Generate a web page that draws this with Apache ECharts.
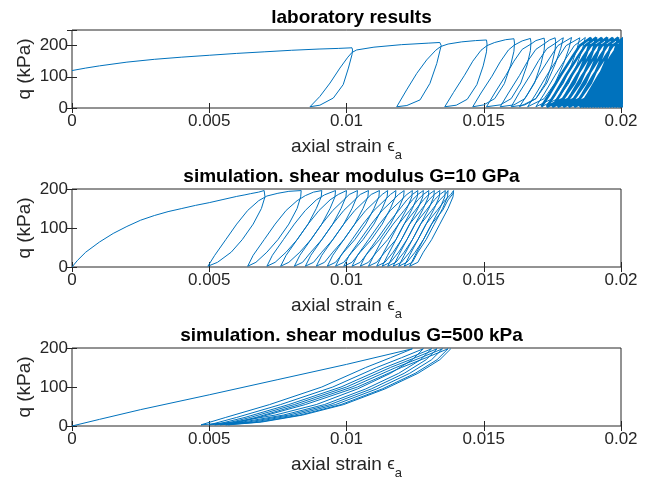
<!DOCTYPE html>
<html>
<head>
<meta charset="utf-8">
<script src="https://cdn.jsdelivr.net/npm/echarts@6/dist/echarts.min.js"></script>
<style>html,body{margin:0;padding:0;background:#fff}#c{width:648px;height:478px}</style>
</head>
<body>
<div id="c"></div>
<script>
// ---- chart data (axial strain, q in kPa) ----
const titles = ['laboratory results', 'simulation. shear modulus G=10 GPa', 'simulation. shear modulus G=500 kPa'];
const xMin = 0, xMax = 0.02, xStep = 0.005;
const yMax = [250, 200, 200];
const yStep = 100;
const yHiddenLabels = [250];

// laboratory record: first cycles
const labPts = [
[0,120],[0.0005,128],[0.001,135],[0.002,147],[0.003,156],[0.004,163],[0.005,169],[0.006,175],[0.007,180],[0.008,185],[0.009,189],[0.0097,191],[0.0102,193],
[0.01022,186],[0.0102,171],[0.01007,128],[0.00988,75],[0.00952,32],[0.00903,9],[0.00867,4],
[0.00903,37],[0.0094,80],[0.00976,128],[0.01005,163],[0.0102,178],[0.01037,186],[0.011,195],[0.012,203],[0.013,208],[0.0134,210],
[0.01345,200],[0.01341,186],[0.01329,143],[0.01304,79],[0.01268,26],[0.0122,8],[0.01183,4],
[0.01219,58],[0.01256,111],[0.01292,154],[0.01325,185],[0.01343,197],[0.0137,205],[0.0142,212],[0.0147,216],[0.0151,218],
[0.01512,205],[0.0151,180],[0.01498,135],[0.01475,75],[0.0144,28],[0.014,9],[0.01358,4],
[0.0139,50],[0.0143,105],[0.0146,150],[0.0149,185],[0.01512,200],[0.0154,210],[0.0158,219],[0.0161,222],
[0.01612,208],[0.0161,182],[0.01598,137],[0.01575,78],[0.0154,30],[0.015,10],[0.0146,4],
[0.0149,48],[0.0153,102],[0.0156,148],[0.0159,186],[0.01612,202],[0.0164,215],[0.0167,223],
[0.01672,210],[0.0167,184],[0.01658,138],[0.01635,80],[0.016,30],[0.0156,10],[0.0151,4],
[0.0154,48],[0.0158,104],[0.0161,150],[0.0164,188],[0.01672,205],[0.0169,216],[0.0172,224],
[0.01722,210],[0.0172,185],[0.01708,140],[0.01685,80],[0.0165,30],[0.0161,10],[0.0156,4],
[0.0159,48],[0.0163,104],[0.0166,150],[0.0169,188],[0.01722,207],[0.0174,218],[0.0176,225],
[0.01762,212],[0.0176,186],[0.01748,140],[0.01725,80],[0.0169,30],[0.0165,10],[0.016,4],
[0.0163,50],[0.0167,106],[0.017,152],[0.0173,190],[0.01762,208],[0.0178,220],[0.0179,225],
[0.0178,190],[0.0176,140],[0.0173,80],[0.0169,30],[0.0163,4],
[0.0166,45],[0.017,105],[0.0174,160],[0.0177,200],[0.0182,226],
[0.0181,190],[0.0179,140],[0.0176,80],[0.0172,30],[0.0166,4],
[0.0169,45],[0.0173,105],[0.0177,160],[0.018,200],[0.0185,225],
[0.0184,190],[0.0182,140],[0.0179,80],[0.0175,30],[0.0169,4],
[0.0172,45],[0.0176,105],[0.018,160],[0.0183,200],[0.0187,226],
[0.0186,190],[0.0184,140],[0.0181,80],[0.0177,30],[0.0171,4]
];
// laboratory record: continuation, densely packed late cycles
const labDensePts = [
[0.0171,4],
[0.0174,45],[0.0178,105],[0.0182,160],[0.0185,200],[0.0189,225],
[0.0188,190],[0.0186,140],[0.0183,80],[0.0179,30],[0.0173,4],
[0.0176,45],[0.018,105],[0.0184,160],[0.0187,200],[0.0191,226],
[0.019,190],[0.0188,140],[0.0185,80],[0.0181,30],[0.0175,4],
[0.0178,45],[0.0182,105],[0.0186,160],[0.0189,200],[0.0193,225],
[0.0192,190],[0.019,140],[0.0187,80],[0.0183,30],[0.0177,4],
[0.018,45],[0.0184,105],[0.0188,160],[0.0191,200],[0.0195,226],
[0.0194,190],[0.0192,140],[0.0189,80],[0.0185,30],[0.0179,4],
[0.0182,45],[0.0186,105],[0.019,160],[0.0193,200],[0.0197,225],
[0.0196,190],[0.0194,140],[0.0191,80],[0.0187,30],[0.0181,4],
[0.0184,45],[0.0188,105],[0.0192,160],[0.0195,200],[0.0199,226],
[0.0198,190],[0.0196,140],[0.0193,80],[0.0189,30],[0.0183,4],
[0.0186,45],[0.019,105],[0.0194,160],[0.0197,200],[0.0201,225],
[0.02,190],[0.0198,140],[0.0195,80],[0.0191,30],[0.0185,4],
[0.0188,45],[0.0192,105],[0.0196,160],[0.0199,200],[0.0202,226],
[0.0201,190],[0.0199,140],[0.0196,80],[0.0192,30],[0.0186,4],
[0.0189,45],[0.0193,105],[0.0197,160],[0.02,200],[0.0203,225],
[0.0202,190],[0.02,140],[0.0197,80],[0.0193,30],[0.0187,4],
[0.019,45],[0.0194,105],[0.0198,160],[0.0201,200],[0.0204,226],
[0.0203,190],[0.0201,140],[0.0198,80],[0.0194,30],[0.0188,4],
[0.0191,45],[0.0195,105],[0.0199,160],[0.0202,200],[0.0205,225],
[0.0204,190],[0.0202,140],[0.0199,80],[0.0195,30],[0.0189,4],
[0.0192,45],[0.0196,105],[0.02,160],[0.0203,200],[0.0206,226],
[0.0205,190],[0.0203,140],[0.02,80],[0.0196,30],[0.019,4],
[0.0193,45],[0.0197,105],[0.0201,160],[0.0204,200],[0.0207,225],
[0.0206,190],[0.0204,140],[0.0201,80],[0.0197,30],[0.0191,4],
[0.0194,45],[0.0198,105],[0.0202,160],[0.0205,200],[0.0208,226],
[0.0207,190],[0.0205,140],[0.0202,80],[0.0198,30],[0.0192,4],
[0.0195,45],[0.0199,105],[0.0203,160],[0.0206,200],[0.0209,225],
[0.0208,190],[0.0206,140],[0.0203,80],[0.0199,30],[0.0193,4],
[0.0196,45],[0.02,105],[0.0204,160],[0.0207,200],[0.021,226],
[0.0209,190],[0.0207,140],[0.0204,80],[0.02,30],[0.0194,4],
[0.0197,45],[0.0201,105],[0.0205,160],[0.0208,200],[0.0211,225],
[0.021,190],[0.0208,140],[0.0205,80],[0.0201,30],[0.0195,4],
[0.0198,45],[0.0202,105],[0.0206,160],[0.0209,200],[0.0212,226],
[0.0211,190],[0.0209,140],[0.0206,80],[0.0202,30],[0.0196,4],
[0.0199,45],[0.0203,105],[0.0207,160],[0.021,200],[0.0213,225],
[0.0212,190],[0.021,140],[0.0207,80],[0.0203,30],[0.0197,4],
[0.02,45],[0.0204,105],[0.0208,160],[0.0211,200],[0.0214,226],
[0.0213,190],[0.0211,140],[0.0208,80],[0.0204,30],[0.0198,4],
[0.0201,45],[0.0205,105],[0.0209,160],[0.0212,200],[0.0215,225],
[0.0214,190],[0.0212,140],[0.0209,80],[0.0205,30],[0.0199,4],
[0.0202,45],[0.0206,105],[0.021,160],[0.0213,200],[0.0216,226],
[0.0215,190],[0.0213,140],[0.021,80],[0.0206,30],[0.02,4]
];

const sim10Pts = [
[0,0],[0.0002,17],[0.0005,38],[0.001,64],[0.0015,86],[0.002,104],[0.0025,120],[0.003,132],[0.0035,142],[0.004,150],[0.0045,158],[0.005,165],[0.0055,173],[0.006,181],[0.0063,185],[0.0065,188],[0.0068,192],[0.007,196],
[0.00705,196],[0.00703,180],[0.0069,150],[0.0066,110],[0.0062,70],[0.0058,38],[0.0053,12],[0.00495,2],
[0.0052,30],[0.0056,70],[0.006,110],[0.0064,145],[0.0068,170],[0.0071,182],[0.0075,189],[0.0079,194],[0.00835,196],
[0.00833,180],[0.0082,150],[0.0079,110],[0.0075,70],[0.0071,38],[0.0067,12],[0.0064,2],
[0.0066,30],[0.007,70],[0.0074,110],[0.0078,145],[0.0082,170],[0.0085,183],[0.0088,192],[0.0091,196],
[0.00908,180],[0.0089,150],[0.0086,110],[0.0082,70],[0.0078,38],[0.0074,12],[0.0071,2],
[0.0073,30],[0.0077,70],[0.0081,110],[0.0085,145],[0.0089,172],[0.0092,185],[0.0096,196],
[0.00958,180],[0.0094,150],[0.0091,110],[0.0087,70],[0.0083,38],[0.0079,12],[0.0076,2],
[0.0078,30],[0.0082,70],[0.0086,110],[0.009,145],[0.0094,172],[0.0097,186],[0.01,196],
[0.00998,180],[0.0098,150],[0.0095,110],[0.0091,70],[0.0087,38],[0.0084,12],[0.0081,2],
[0.0083,30],[0.0087,70],[0.0091,110],[0.0095,145],[0.0099,172],[0.0101,186],[0.0104,196],
[0.01038,180],[0.0102,150],[0.0099,110],[0.0095,70],[0.0091,38],[0.0088,12],[0.0085,2],
[0.0087,30],[0.0091,70],[0.0095,110],[0.0099,145],[0.0103,172],[0.0105,186],[0.0108,196],
[0.01078,180],[0.0106,150],[0.0103,110],[0.0099,70],[0.0095,38],[0.0092,12],[0.0089,2],
[0.0091,30],[0.0095,70],[0.0099,110],[0.0103,145],[0.0107,172],[0.0109,186],[0.0112,196],
[0.01118,180],[0.011,150],[0.0107,110],[0.0103,70],[0.0099,38],[0.0096,12],[0.0093,2],
[0.0095,30],[0.0099,70],[0.0103,110],[0.0107,145],[0.0111,172],[0.0113,186],[0.0115,196],
[0.01148,180],[0.0113,150],[0.011,110],[0.0106,70],[0.0102,38],[0.0099,12],[0.0096,2],
[0.0098,30],[0.0102,70],[0.0106,110],[0.011,145],[0.0114,172],[0.0116,186],[0.0118,196],
[0.01178,180],[0.0116,150],[0.0113,110],[0.0109,70],[0.0105,38],[0.0102,12],[0.0099,2],
[0.0101,30],[0.0105,70],[0.0109,110],[0.0113,145],[0.0117,172],[0.0119,186],[0.0121,196],
[0.01208,180],[0.0119,150],[0.0116,110],[0.0112,70],[0.0108,38],[0.0105,12],[0.0102,2],
[0.0104,30],[0.0108,70],[0.0112,110],[0.0116,145],[0.012,172],[0.0122,186],[0.0124,196],
[0.01238,180],[0.0122,150],[0.0119,110],[0.0115,70],[0.0111,38],[0.0108,12],[0.0105,2],
[0.0107,30],[0.0111,70],[0.0115,110],[0.0119,145],[0.0122,172],[0.0124,186],[0.0126,196],
[0.01258,180],[0.0124,150],[0.0121,110],[0.0118,70],[0.0114,38],[0.0111,12],[0.0108,2],
[0.011,30],[0.0113,70],[0.0117,110],[0.0121,145],[0.0124,172],[0.0126,186],[0.0128,196],
[0.01278,180],[0.0126,150],[0.0123,110],[0.012,70],[0.0117,38],[0.0114,12],[0.0111,2],
[0.0113,30],[0.0116,70],[0.0119,110],[0.0123,145],[0.0126,172],[0.0128,186],[0.013,196],
[0.01298,180],[0.0128,150],[0.0125,110],[0.0122,70],[0.0119,38],[0.0116,12],[0.0113,2],
[0.0115,30],[0.0118,70],[0.0121,110],[0.0125,145],[0.0128,172],[0.013,186],[0.0132,196],
[0.01318,180],[0.013,150],[0.0127,110],[0.0124,70],[0.0121,38],[0.0118,12],[0.0115,2],
[0.0117,30],[0.012,70],[0.0123,110],[0.0127,145],[0.013,172],[0.0132,186],[0.0134,196],
[0.01338,180],[0.0132,150],[0.0129,110],[0.0126,70],[0.0123,38],[0.012,12],[0.0117,2],
[0.0119,30],[0.0122,70],[0.0125,110],[0.0129,145],[0.0132,172],[0.0134,186],[0.0136,196],
[0.01358,180],[0.0134,150],[0.0131,110],[0.0128,70],[0.0125,38],[0.0122,12],[0.0119,2],
[0.0121,30],[0.0124,70],[0.0127,110],[0.0131,145],[0.0134,172],[0.0136,186],[0.0137,196],
[0.01368,180],[0.0135,150],[0.0132,110],[0.0129,70],[0.0126,38],[0.0124,12],[0.0121,2],
[0.0123,30],[0.0126,70],[0.0129,110],[0.0133,145],[0.0136,172],[0.0138,186],[0.0139,196],
[0.01388,180],[0.0137,150],[0.0134,110],[0.0131,70],[0.0128,38],[0.0126,12],[0.0123,2],
[0.0125,30],[0.0128,70],[0.0131,110],[0.0135,145],[0.0137,172],[0.0139,190]
];

const sim500Pts = [
[0,0],[0.001,17],[0.0025,42],[0.005,80],[0.0075,119],[0.01,158],[0.0124,198],
[0.0116,175],[0.0107,150],[0.0091,100],[0.0072,55],[0.0056,22],[0.0047,3],
[0.0059,10],[0.0074,28],[0.0089,55],[0.0104,95],[0.0116,135],[0.0124,170],[0.0128,198],
[0.012,175],[0.0111,150],[0.0095,100],[0.0076,55],[0.006,22],[0.005,3],
[0.0062,10],[0.0077,28],[0.0092,55],[0.0107,95],[0.0119,135],[0.0127,170],[0.0131,198],
[0.0123,175],[0.0114,150],[0.0098,100],[0.0079,55],[0.0063,22],[0.0052,3],
[0.0064,10],[0.0079,28],[0.0094,55],[0.0109,95],[0.0121,135],[0.0129,170],[0.0133,198],
[0.0125,175],[0.0116,150],[0.01,100],[0.0081,55],[0.0065,22],[0.0054,3],
[0.0066,10],[0.0081,28],[0.0096,55],[0.0111,95],[0.0123,135],[0.0131,170],[0.0135,198],
[0.0127,175],[0.0118,150],[0.0102,100],[0.0083,55],[0.0067,22],[0.0056,3],
[0.0068,10],[0.0083,28],[0.0098,55],[0.0113,95],[0.0125,135],[0.0133,170],[0.0137,198],
[0.0129,175],[0.012,150],[0.0104,100],[0.0085,55],[0.0068,22],[0.0057,3],
[0.0069,10],[0.0084,28],[0.0099,55],[0.0114,95],[0.0126,135],[0.0134,170],[0.0138,198]
];

// ---- layout / style ----
const FONT = 'Liberation Sans, Arial, Helvetica, sans-serif';
const AX = '#262626';
const LINE = '#0072BD';
const gridTops = [30, 189, 348];
const gridH = 78, gridL = 72, gridW = 549;

const seriesSpec = [
  {grid: 0, data: labPts, width: 1},
  {grid: 0, data: labDensePts, width: 2.6},
  {grid: 1, data: sim10Pts, width: 1},
  {grid: 2, data: sim500Pts, width: 1}
];

const xAxes = [], yAxes = [], grids = [], titleList = [];
gridTops.forEach((top, i) => {
  grids.push({left: gridL, top: top, width: gridW, height: gridH, show: true,
    borderColor: AX, borderWidth: 1, backgroundColor: '#fff', containLabel: false, outerBoundsMode: 'none'});
  titleList.push({text: titles[i], left: gridL + gridW / 2, top: top - 27, textAlign: 'center',
    textStyle: {fontFamily: FONT, fontSize: 19, fontWeight: 'bold', color: '#000'}});
  const xBase = {gridIndex: i, type: 'value', min: xMin, max: xMax, interval: xStep,
    splitLine: {show: false}, axisLine: {show: false},
    axisTick: {show: true, inside: true, length: 5, lineStyle: {color: AX, width: 1}}};
  xAxes.push(Object.assign({}, xBase, {position: 'bottom',
    axisLabel: {show: true, fontFamily: FONT, fontSize: 17, color: AX, margin: 5},
    name: '{n|axial strain }{e|\u03f5}{s|a}', nameLocation: 'middle', nameGap: 10,
    nameTextStyle: {rich: {
      n: {fontFamily: FONT, fontSize: 19, lineHeight: 22, color: AX},
      e: {fontFamily: FONT, fontSize: 17, lineHeight: 22, color: AX},
      s: {fontFamily: FONT, fontSize: 13, lineHeight: 14, color: AX, padding: [18, 0, 0, 0]}
    }}}));
  xAxes.push(Object.assign({}, xBase, {position: 'top', axisLabel: {show: false}}));
  const yBase = {gridIndex: i, type: 'value', min: 0, max: yMax[i], interval: yStep,
    splitLine: {show: false}, axisLine: {show: false},
    axisTick: {show: true, inside: true, length: 5, lineStyle: {color: AX, width: 1}}};
  yAxes.push(Object.assign({}, yBase, {position: 'left',
    axisLabel: {show: true, fontFamily: FONT, fontSize: 17, color: AX, margin: 4,
      formatter: v => (yHiddenLabels.indexOf(v) >= 0 ? '' : String(v))},
    name: 'q (kPa)', nameLocation: 'middle', nameGap: 38, nameRotate: 90, nameMoveOverlap: false,
    nameTextStyle: {fontFamily: FONT, fontSize: 19, color: AX}}));
  yAxes.push(Object.assign({}, yBase, {position: 'right', axisLabel: {show: false}}));
});

const series = seriesSpec.map(s => ({type: 'line', xAxisIndex: 2 * s.grid, yAxisIndex: 2 * s.grid,
  data: s.data, showSymbol: false, symbol: 'none', clip: true, smooth: false,
  lineStyle: {color: LINE, width: s.width}, emphasis: {disabled: true}}));

const chart = echarts.init(document.getElementById('c'), null, {renderer: 'canvas'});
chart.setOption({
  animation: false,
  backgroundColor: '#fff',
  title: titleList,
  grid: grids,
  xAxis: xAxes,
  yAxis: yAxes,
  series: series
});
</script>
</body>
</html>
